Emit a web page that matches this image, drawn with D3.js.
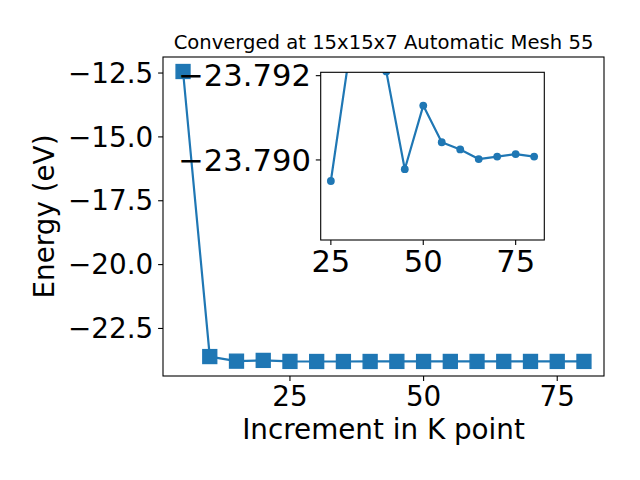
<!DOCTYPE html>
<html><head><meta charset="utf-8">
<script src="https://cdn.jsdelivr.net/npm/d3@7"></script>
<style>body{margin:0;background:#fff}svg{display:block;font-family:"DejaVu Sans",sans-serif}</style>
</head><body><svg id="c" width="640" height="480"></svg>
<script>
// ---- data ----
const kpoints = [5,10,15,20,25,30,35,40,45,50,55,60,65,70,75,80];
const energies = [-12.44,-23.60,-23.78,-23.75,-23.7895,-23.7925,-23.7932,-23.7921,-23.78978,-23.79129,-23.79042,-23.79025,-23.79002,-23.79008,-23.79014,-23.79008];
const mainXTicks = [25,50,75];
const mainYTicks = [-22.5,-20.0,-17.5,-15.0,-12.5];
const insetXTicks = [25,50,75];
const insetYTicks = [-23.792,-23.790];
const insetYLim = [-23.79208,-23.7881]; // inverted axis (top, bottom)
const titleText = "Converged at 15x15x7 Automatic Mesh 55";
const xLabel = "Increment in K point";
const yLabel = "Energy (eV)";

const color = "#1f77b4";
const svg = d3.select("#c");
const data = kpoints.map((k,i)=>({k, e: energies[i]}));

function padded(ext){const r=ext[1]-ext[0];return [ext[0]-0.05*r, ext[1]+0.05*r];}

// ---- main axes ----
const M = {l:163, r:604, t:57, b:376};
const x = d3.scaleLinear().domain(padded(d3.extent(kpoints))).range([M.l, M.r]);
const y = d3.scaleLinear().domain(padded(d3.extent(energies))).range([M.b, M.t]);

const tickLen = 4.9, fs = 27.8, fsi = 30.6, lw = 2.2;

const line = d3.line().x(d=>x(d.k)).y(d=>y(d.e));
svg.append("path").datum(data).attr("d", line).attr("fill","none")
  .attr("stroke", color).attr("stroke-width", lw).attr("stroke-linejoin","round");
const sq = 13.9;
svg.append("g").selectAll("rect").data(data).join("rect")
  .attr("x", d=>x(d.k)-sq/2).attr("y", d=>y(d.e)-sq/2)
  .attr("width", sq).attr("height", sq)
  .attr("fill", color).attr("stroke", color).attr("stroke-width", 1.39);

// frame
svg.append("rect").attr("x",M.l).attr("y",M.t).attr("width",M.r-M.l).attr("height",M.b-M.t)
  .attr("fill","none").attr("stroke","#000").attr("stroke-width",1.1);

// x ticks
const gx = svg.append("g");
mainXTicks.forEach(v=>{
  gx.append("line").attr("x1",x(v)).attr("x2",x(v)).attr("y1",M.b).attr("y2",M.b+tickLen).attr("stroke","#000").attr("stroke-width",1.1);
  gx.append("text").attr("x",x(v)).attr("y",M.b+tickLen+4.9+20.6).attr("text-anchor","middle")
    .attr("font-size",fs).text(d3.format("d")(v));
});
// y ticks
const gy = svg.append("g");
mainYTicks.forEach(v=>{
  gy.append("line").attr("x1",M.l).attr("x2",M.l-tickLen).attr("y1",y(v)).attr("y2",y(v)).attr("stroke","#000").attr("stroke-width",1.1);
  gy.append("text").attr("x",M.l-tickLen-4.9).attr("y",y(v)).attr("dy","0.35em").attr("text-anchor","end")
    .attr("font-size",fs).text(d3.format(".1f")(v));
});
// labels
svg.append("text").attr("x",(M.l+M.r)/2).attr("y",439).attr("text-anchor","middle").attr("font-size",fs).text(xLabel);
svg.append("text").attr("transform",`translate(53.5,${(M.t+M.b)/2}) rotate(-90)`).attr("text-anchor","middle").attr("font-size",fs).text(yLabel);
svg.append("text").attr("x",(M.l+M.r)/2).attr("y",M.t-8.3).attr("text-anchor","middle").attr("font-size",19.6).text(titleText);

// ---- inset ----
const I = {l:320.7, r:544.3, t:72.3, b:240};
const insetData = data.filter(d=>d.k>=25);
const xi = d3.scaleLinear().domain(padded(d3.extent(insetData,d=>d.k))).range([I.l, I.r]);
const yi = d3.scaleLinear().domain(insetYLim).range([I.t, I.b]);
svg.append("rect").attr("x",I.l).attr("y",I.t).attr("width",I.r-I.l).attr("height",I.b-I.t).attr("fill","#fff");
svg.append("clipPath").attr("id","ic").append("rect").attr("x",I.l).attr("y",I.t).attr("width",I.r-I.l).attr("height",I.b-I.t);
const gi = svg.append("g").attr("clip-path","url(#ic)");
gi.append("path").datum(insetData).attr("d", d3.line().x(d=>xi(d.k)).y(d=>yi(d.e)))
  .attr("fill","none").attr("stroke",color).attr("stroke-width",lw).attr("stroke-linejoin","round");
gi.selectAll("circle").data(insetData).join("circle")
  .attr("cx",d=>xi(d.k)).attr("cy",d=>yi(d.e)).attr("r",3.9).attr("fill",color);
svg.append("rect").attr("x",I.l).attr("y",I.t).attr("width",I.r-I.l).attr("height",I.b-I.t)
  .attr("fill","none").attr("stroke","#000").attr("stroke-width",1.1);
insetXTicks.forEach(v=>{
  svg.append("line").attr("x1",xi(v)).attr("x2",xi(v)).attr("y1",I.b).attr("y2",I.b+tickLen).attr("stroke","#000").attr("stroke-width",1.1);
  svg.append("text").attr("x",xi(v)).attr("y",I.b+tickLen+4.9+22.3).attr("text-anchor","middle").attr("font-size",fsi).text(d3.format("d")(v));
});
insetYTicks.forEach(v=>{
  svg.append("line").attr("x1",I.l).attr("x2",I.l-tickLen).attr("y1",yi(v)).attr("y2",yi(v)).attr("stroke","#000").attr("stroke-width",1.1);
  svg.append("text").attr("x",I.l-tickLen-4.9).attr("y",yi(v)).attr("dy","0.35em").attr("text-anchor","end").attr("font-size",fsi).text(d3.format(".3f")(v));
});
</script></body></html>
